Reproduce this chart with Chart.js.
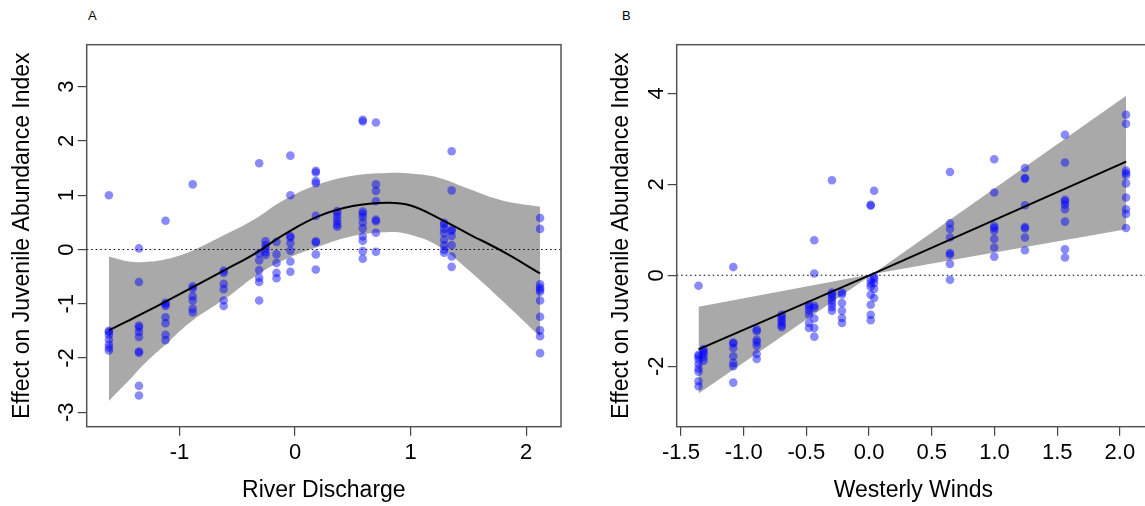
<!DOCTYPE html>
<html>
<head>
<meta charset="utf-8">
<script src="https://cdn.jsdelivr.net/npm/chart.js@4.4.0/dist/chart.umd.min.js"></script>
<style>
  html, body { margin: 0; padding: 0; background: #fff; overflow: hidden; }
  body { width: 1145px; height: 506px; position: relative; font-family: "Liberation Sans", Arial, sans-serif; }
  canvas { position: absolute; top: 0; }
  #discharge { left: 0; }
  #winds { left: 590px; }
  .tag { position: absolute; top: 8px; font-size: 13px; color: #000; }
</style>
</head>
<body>
<div class="tag" style="left:88px">A</div>
<div class="tag" style="left:622px">B</div>
<canvas id="discharge" width="575" height="506"></canvas>
<canvas id="winds" width="575" height="506"></canvas>
<script>
// Panel A: river discharge (one column of years per discharge value)
const dischargeCols = [-1.61, -1.35, -1.12, -0.885, -0.617, -0.31, -0.255, -0.16, -0.04, 0.18, 0.365, 0.586, 0.70, 1.29, 1.355, 2.12];
const dischargeVals = [
  [1.0, -1.50, -1.52, -1.57, -1.66, -1.75, -1.81, -1.86],
  [0.02, -0.60, -1.40, -1.44, -1.52, -1.61, -1.88, -1.90, -2.51, -2.69],
  [0.53, -0.98, -1.01, -1.04, -1.25, -1.36, -1.57, -1.67],
  [1.20, -0.68, -0.72, -0.86, -0.94, -1.09, -1.16],
  [-0.39, -0.43, -0.63, -0.73, -0.94, -1.04],
  [1.59, -0.07, -0.20, -0.38, -0.52, -0.60, -0.94],
  [0.15, 0.08, 0.02, -0.05, -0.10],
  [0.14, -0.09, -0.25, -0.43, -0.53],
  [1.73, 1.00, 0.25, 0.22, 0.12, -0.02, -0.22, -0.41],
  [1.45, 1.42, 1.26, 1.22, 0.62, 0.15, 0.13, -0.09, -0.37],
  [0.71, 0.66, 0.59, 0.52, 0.46, 0.42],
  [2.39, 2.36, 0.70, 0.66, 0.60, 0.50, 0.39, 0.24, 0.16, -0.03, -0.17],
  [2.34, 1.20, 1.08, 0.89, 0.55, 0.52, 0.31, -0.04],
  [0.49, 0.46, 0.38, 0.30, 0.18, 0.08, -0.01, -0.06],
  [1.81, 1.09, 0.37, 0.34, 0.25, 0.08, -0.13, -0.32],
  [0.58, 0.38, -0.64, -0.70, -0.74, -0.78, -0.94, -1.24, -1.49, -1.60, -1.91]
];
// smooth term and its confidence band
const dischargeFitX = [-1.61, -1.44, -1.3, -1.12, -0.9, -0.6, -0.35, -0.1, 0.2, 0.5, 0.8, 1.0, 1.25, 1.5, 1.8, 2.12];
const dischargeFit = [-1.49, -1.31, -1.16, -0.96, -0.71, -0.37, -0.08, 0.27, 0.61, 0.80, 0.86, 0.81, 0.57, 0.29, -0.04, -0.44];
const dischargeUpper = [-0.13, -0.22, -0.23, -0.18, -0.03, 0.28, 0.56, 0.91, 1.20, 1.36, 1.41, 1.40, 1.32, 1.12, 0.90, 0.79];
const dischargeLower = [-2.79, -2.42, -2.10, -1.75, -1.33, -0.90, -0.50, -0.20, 0.05, 0.25, 0.32, 0.27, 0.05, -0.38, -0.96, -1.61];
const dischargeTicksX = [-1, 0, 1, 2];
const dischargeTicksY = [-3, -2, -1, 0, 1, 2, 3];

// Panel B: westerly winds
const windsCols = [-1.36, -1.32, -1.083, -0.896, -0.697, -0.479, -0.437, -0.296, -0.216, 0.013, 0.04, 0.645, 0.998, 1.243, 1.562, 2.049];
const windsVals = [
  [-0.23, -1.75, -1.78, -1.85, -1.95, -2.05, -2.12, -2.33, -2.44],
  [-1.62, -1.68, -1.72, -1.80, -1.88],
  [0.18, -1.48, -1.50, -1.60, -1.78, -1.93, -2.00, -2.36],
  [-1.19, -1.23, -1.42, -1.47, -1.55, -1.73, -1.84],
  [-0.87, -0.92, -0.98, -1.04, -1.10, -1.14],
  [-0.65, -0.70, -0.78, -0.87, -1.05, -1.16],
  [0.77, 0.04, -0.67, -0.72, -0.95, -1.16, -1.35],
  [2.09, -0.38, -0.42, -0.48, -0.55, -0.62, -0.70, -0.78],
  [-0.38, -0.42, -0.61, -0.78, -0.94, -1.05],
  [1.55, 1.53, -0.10, -0.18, -0.25, -0.43, -0.65, -0.87, -0.99],
  [1.86, -0.03, -0.08, -0.17, -0.30, -0.50],
  [2.27, 1.14, 1.02, 0.83, 0.49, 0.45, 0.25, -0.10],
  [2.55, 1.82, 1.08, 1.04, 0.98, 0.80, 0.61, 0.41],
  [2.36, 2.14, 2.12, 1.54, 1.06, 1.03, 0.83, 0.55],
  [3.09, 2.48, 1.66, 1.62, 1.55, 1.45, 1.18, 0.57, 0.39],
  [3.53, 3.33, 2.30, 2.25, 2.20, 2.02, 1.71, 1.45, 1.35, 1.04]
];
const windsFitX = [-1.36, 0.03, 2.05];
const windsFit = [-1.63, 0.03, 2.50];
const windsUpper = [-0.69, 0.03, 3.95];
const windsLower = [-2.60, 0.03, 1.01];
const windsTicksX = [-1.5, -1.0, -0.5, 0.0, 0.5, 1.0, 1.5, 2.0];
const windsTicksY = [-2, 0, 2, 4];

const FONT = '"Liberation Sans", Arial, sans-serif';

const toPoints = (xs, ys) => xs.map((x, i) => ({ x, y: ys[i] }));
const columnPoints = (cols, vals) => cols.flatMap((x, i) => vals[i].map(y => ({ x, y })));

// frame round the plotting region, like R's box()
const boxPlugin = {
  id: 'box',
  afterDraw(chart) {
    const { ctx, chartArea: a } = chart;
    ctx.save();
    ctx.strokeStyle = '#555';
    ctx.lineWidth = 1.5;
    ctx.strokeRect(a.left, a.top, a.right - a.left, a.bottom - a.top);
    ctx.restore();
  }
};

function makePanel(id, p) {
  const tension = p.tension;
  return new Chart(document.getElementById(id), {
    type: 'scatter',
    data: {
      datasets: [
        { data: columnPoints(p.cols, p.vals), backgroundColor: 'rgba(0,0,255,0.46)',
          pointRadius: 4.3, pointHoverRadius: 4.3, borderWidth: 0, order: 2 },
        { type: 'line', data: toPoints(p.fitX, p.fit), borderColor: '#000', borderWidth: 2,
          pointRadius: 0, fill: false, order: 1, tension },
        { type: 'line', data: [{ x: p.xMin, y: 0 }, { x: p.xMax, y: 0 }], borderColor: '#000',
          borderWidth: 1, borderDash: [1.5, 3], pointRadius: 0, fill: false, order: 3 },
        { type: 'line', data: toPoints(p.fitX, p.upper), borderWidth: 0, borderColor: 'rgba(0,0,0,0)',
          backgroundColor: '#a9a9a9', pointRadius: 0, fill: 4, order: 5, tension },
        { type: 'line', data: toPoints(p.fitX, p.lower), borderWidth: 0, borderColor: 'rgba(0,0,0,0)',
          pointRadius: 0, fill: false, order: 5, tension }
      ]
    },
    options: {
      responsive: false,
      devicePixelRatio: 1,
      animation: false,
      events: [],
      layout: { padding: { top: 44.7, right: p.padRight, left: 0, bottom: 0 } },
      plugins: { legend: { display: false }, tooltip: { enabled: false } },
      scales: {
        x: {
          type: 'linear', min: p.xMin, max: p.xMax,
          afterBuildTicks: s => { s.ticks = p.ticksX.map(v => ({ value: v })); },
          afterFit: s => { s.height = 79.3; },
          border: { display: false },
          grid: { drawOnChartArea: false, drawTicks: true, tickLength: 9, color: '#444', lineWidth: 1.2 },
          ticks: { color: '#000', font: { size: 22, family: FONT }, padding: 4, maxRotation: 0,
                   autoSkip: false, callback: p.fmtX },
          title: { display: true, text: p.titleX, color: '#000', font: { size: 23, family: FONT },
                   padding: { top: 0, bottom: 2 } }
        },
        y: {
          type: 'linear', min: p.yMin, max: p.yMax,
          afterBuildTicks: s => { s.ticks = p.ticksY.map(v => ({ value: v })); },
          afterFit: s => { s.width = 86.7; },
          border: { display: false },
          grid: { drawOnChartArea: false, drawTicks: true, tickLength: 9, color: '#444', lineWidth: 1.2 },
          ticks: { color: '#000', font: { size: 22, family: FONT }, padding: 1, minRotation: 90,
                   maxRotation: 90, crossAlign: 'center', autoSkip: false, callback: v => String(v) },
          title: { display: true, text: 'Effect on Juvenile Abundance Index', color: '#000',
                   font: { size: 23, family: FONT }, padding: { top: p.titleGap, bottom: 0 } }
        }
      }
    },
    plugins: [boxPlugin]
  });
}

makePanel('discharge', {
  cols: dischargeCols, vals: dischargeVals,
  fitX: dischargeFitX, fit: dischargeFit, upper: dischargeUpper, lower: dischargeLower,
  ticksX: dischargeTicksX, ticksY: dischargeTicksY,
  xMin: -1.802, xMax: 2.301, yMin: -3.266, yMax: 3.775,
  padRight: 14, tension: 0.4, titleGap: 9, titleX: 'River Discharge',
  fmtX: v => String(v)
});

makePanel('winds', {
  cols: windsCols, vals: windsVals,
  fitX: windsFitX, fit: windsFit, upper: windsUpper, lower: windsLower,
  ticksX: windsTicksX, ticksY: windsTicksY,
  xMin: -1.534, xMax: 2.24, yMin: -3.33, yMax: 5.07,
  padRight: 15, tension: 0, titleGap: 18, titleX: 'Westerly Winds',
  fmtX: v => v.toFixed(1)
});
</script>
</body>
</html>
